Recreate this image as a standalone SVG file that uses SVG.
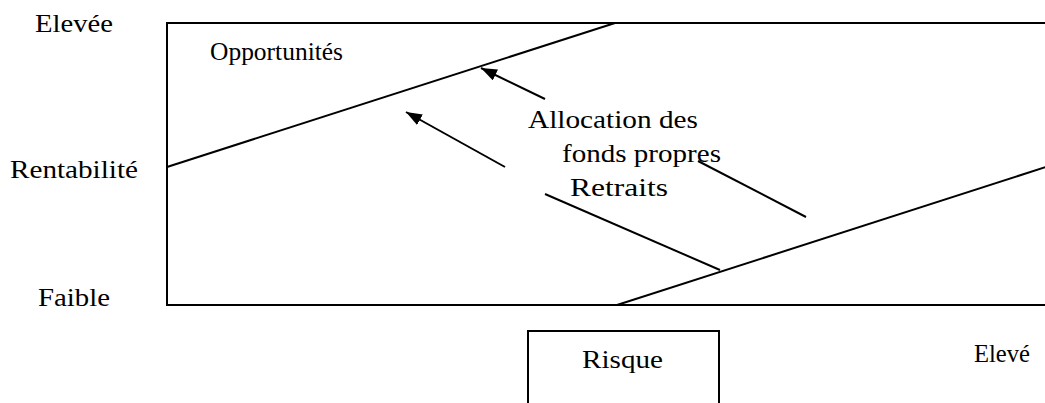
<svg xmlns="http://www.w3.org/2000/svg" width="1045" height="403" viewBox="0 0 1045 403">
<style>
.t{font-family:"Liberation Serif","Times New Roman",serif;font-size:26px;fill:#000}
.ln{stroke:#000;stroke-width:2;fill:none}
</style>
<defs>
<marker id="ah" markerUnits="userSpaceOnUse" markerWidth="18" markerHeight="14" refX="16" refY="6" orient="auto">
<path d="M0,0 L16,6 L0,12 z" fill="#000"/>
</marker>
</defs>
<rect width="1045" height="403" fill="#fff"/>
<g id="frame">
<path class="ln" d="M1046,23 H167 V305 H1046"/>
</g>
<g id="connectors">
<line class="ln" x1="167" y1="167" x2="615" y2="23"/>
<line class="ln" x1="617" y1="305" x2="1046" y2="167"/>
<line class="ln" x1="545" y1="99" x2="481" y2="68" marker-end="url(#ah)"/>
<line class="ln" x1="505" y1="167" x2="406" y2="112" marker-end="url(#ah)"/>
<line class="ln" x1="545" y1="194" x2="720" y2="270"/>
<line class="ln" x1="698" y1="161" x2="806" y2="217"/>
</g>
<g id="risque">
<path class="ln" d="M528,404 V331 H719 V404"/>
<text class="t" x="582" y="368" textLength="81" lengthAdjust="spacingAndGlyphs">Risque</text>
</g>
<g id="labels">
<text class="t" x="35" y="32" textLength="78" lengthAdjust="spacingAndGlyphs">Elevée</text>
<text class="t" x="10" y="178" textLength="128" lengthAdjust="spacingAndGlyphs">Rentabilité</text>
<text class="t" x="38" y="306" textLength="72" lengthAdjust="spacingAndGlyphs">Faible</text>
<text class="t" x="974" y="362" textLength="56" lengthAdjust="spacingAndGlyphs">Elevé</text>
<text class="t" x="210" y="60" textLength="133" lengthAdjust="spacingAndGlyphs">Opportunités</text>
<text class="t" x="528" y="128" textLength="170" lengthAdjust="spacingAndGlyphs">Allocation des</text>
<text class="t" x="562" y="162" textLength="159" lengthAdjust="spacingAndGlyphs">fonds propres</text>
<text class="t" x="570" y="196" textLength="98" lengthAdjust="spacingAndGlyphs">Retraits</text>
</g>
</svg>
